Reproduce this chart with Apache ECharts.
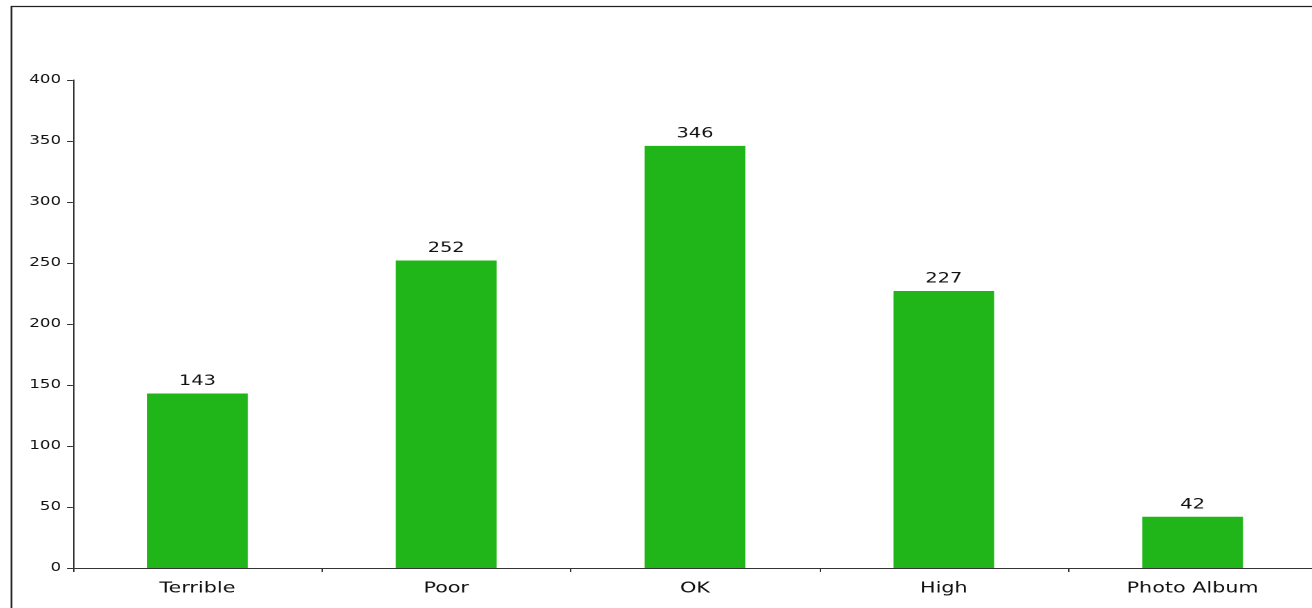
<!DOCTYPE html>
<html>
<head>
<meta charset="utf-8">
<script src="https://cdn.jsdelivr.net/npm/echarts@6/dist/echarts.min.js"></script>
<style>
  html, body { margin: 0; padding: 0; background: #fff; overflow: hidden; }
  #wrap { width: 1312px; height: 608px; overflow: hidden; }
  /* the original picture is stretched sideways, so draw narrow and widen it */
  #chart { height: 608px; transform-origin: 0 0; }
</style>
</head>
<body>
<div id="wrap"><div id="chart"></div></div>
<script>
// data
var categories = ['Terrible', 'Poor', 'OK', 'High', 'Photo Album'];
var counts = [143, 252, 346, 227, 42];

var SX = 1.38; // horizontal stretch of the reference
var el = document.getElementById('chart');
// a bit wider than the window: the plot runs past the right edge
el.style.width = (1340 / SX) + 'px';
el.style.transform = 'scaleX(' + SX + ')';

var myChart = echarts.init(el, null, { devicePixelRatio: 2 });

function px(x) { return x / SX; } // screen x -> chart x

var option = {
  animation: false,
  backgroundColor: '#fff',
  graphic: [{
    type: 'rect',
    left: px(8), top: 4,
    shape: { width: 1100, height: 700 },
    style: { fill: 'none', stroke: '#222', lineWidth: 1.2 },
    z: 100
  }],
  grid: { left: px(73), top: 80, width: px(1244), height: 488 },
  xAxis: {
    type: 'category',
    data: categories,
    axisLine: { lineStyle: { color: '#333', width: 1 } },
    axisTick: { show: true, length: 4, lineStyle: { color: '#333' } },
    axisLabel: {
      color: '#111',
      fontFamily: 'DejaVu Sans',
      fontSize: 15,
      margin: 13
    }
  },
  yAxis: {
    type: 'value',
    min: 0, max: 400, interval: 50,
    splitLine: { show: false },
    axisLine: { show: true, lineStyle: { color: '#333', width: 1 } },
    axisTick: { show: true, length: px(6), lineStyle: { color: '#333' } },
    axisLabel: {
      color: '#111',
      fontFamily: 'DejaVu Sans',
      fontSize: 12,
      margin: px(12)
    }
  },
  series: [{
    type: 'bar',
    data: counts,
    barWidth: '40.5%',
    itemStyle: { color: '#20b518' },
    label: {
      show: true,
      position: 'top',
      distance: 5,
      color: '#111',
      fontFamily: 'DejaVu Sans',
      fontSize: 14
    }
  }]
};

myChart.setOption(option);
</script>
</body>
</html>
